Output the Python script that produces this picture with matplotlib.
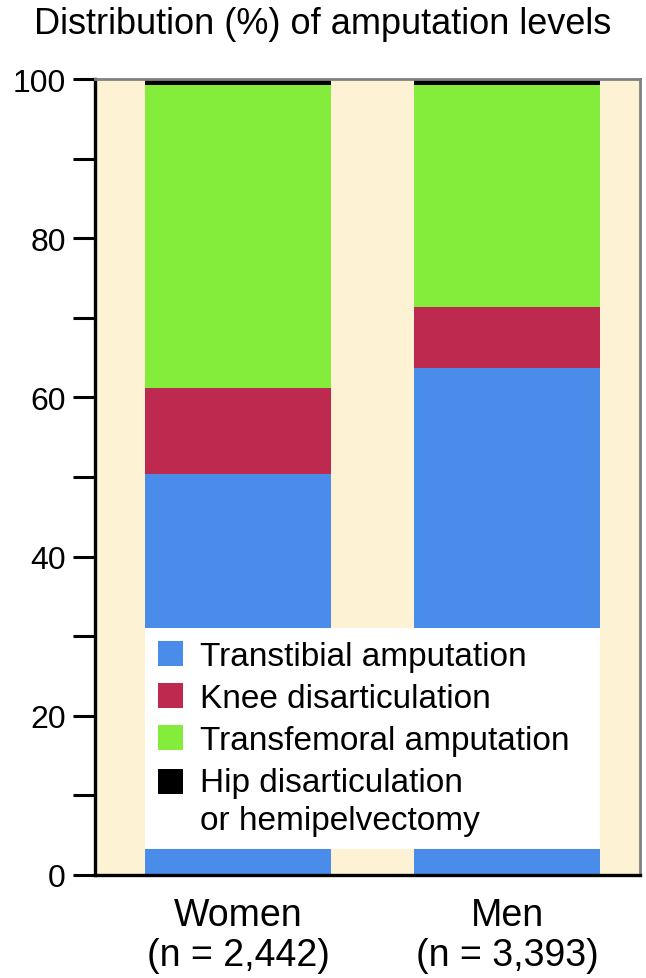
#!/usr/bin/env python3
# Stacked bars: distribution (%) of amputation levels by sex.

import matplotlib
matplotlib.use("Agg")
import matplotlib.pyplot as plt
from matplotlib.patches import Patch, Rectangle
from matplotlib.legend_handler import HandlerPatch
from matplotlib.ticker import MultipleLocator

plt.rcParams["font.family"] = ["Liberation Sans", "DejaVu Sans"]

# ---------------------------------------------------------------------------
# Data
# ---------------------------------------------------------------------------

title = "Distribution (%) of amputation levels"
groups = ["Women\n(n = 2,442)", "Men\n(n = 3,393)"]
levels = ["Transtibial amputation", "Knee disarticulation",
          "Transfemoral amputation", "Hip disarticulation\nor hemipelvectomy"]
transtibial = [50.4, 63.7]
knee = [10.8, 7.7]
transfemoral = [38.0, 27.8]
hip = [0.8, 0.8]

COLORS = ["#4A8CEA", "#BE2950", "#84EC3A", "#000000"]
BG = "#FDF3D4"


def top_line_patch(legend, orig_handle, xdescent, ydescent, width, height, fontsize):
    # two-line label: put the square next to the first line
    return Rectangle((-xdescent, -ydescent + 14.5), width, height)


# ---------------------------------------------------------------------------
# Drawing
# ---------------------------------------------------------------------------

def main():
    fig = plt.figure(figsize=(6.46, 9.79), dpi=100)
    ax = fig.add_axes([95 / 646, 1 - 876 / 979, 545 / 646, 796 / 979])
    ax.set_facecolor(BG)

    x = range(len(groups))
    bottom = [0.0] * len(groups)
    for vals, color in zip([transtibial, knee, transfemoral, hip], COLORS):
        ax.bar(x, vals, width=0.69, bottom=bottom, color=color, zorder=2)
        bottom = [b + v for b, v in zip(bottom, vals)]

    ax.set_xlim(-0.532, 1.494)
    ax.set_ylim(0, 100)
    ax.yaxis.set_major_locator(MultipleLocator(20))
    ax.yaxis.set_minor_locator(MultipleLocator(10))
    ax.tick_params(axis="y", which="both", length=16, width=2.2,
                   direction="out", labelsize=23, pad=5)
    ax.set_xticks(list(x))
    ax.set_xticklabels(groups, fontsize=27, linespacing=1.15)
    ax.tick_params(axis="x", length=0, pad=16)

    for side in ("left", "bottom"):
        ax.spines[side].set_linewidth(2.4)
        ax.spines[side].set_color("black")
    for side in ("top", "right"):
        ax.spines[side].set_linewidth(2.0)
        ax.spines[side].set_color("#808080")

    fig.text(0.5, 1 - 25 / 979, title, ha="center", va="center",
             fontsize=26)

    handles = [Patch(facecolor=c, edgecolor="none") for c in COLORS]
    leg = ax.legend(handles, levels, loc="lower left", mode="expand",
                    bbox_to_anchor=(145 / 646, 1 - 850 / 979, 455 / 646, 0),
                    bbox_transform=fig.transFigure,
                    handler_map={handles[-1]: HandlerPatch(patch_func=top_line_patch)},
                    fontsize=24, frameon=True, fancybox=False,
                    handlelength=0.75, handleheight=0.75, handletextpad=0.5,
                    labelspacing=0.33, borderpad=0.4, borderaxespad=0)
    for t in leg.get_texts():
        t.set_linespacing(1.28)
    leg.get_frame().set_facecolor("white")
    leg.get_frame().set_edgecolor("none")
    leg.get_frame().set_alpha(1.0)
    leg.set_zorder(5)

    fig.savefig("out.png", dpi=100)


if __name__ == "__main__":
    main()
